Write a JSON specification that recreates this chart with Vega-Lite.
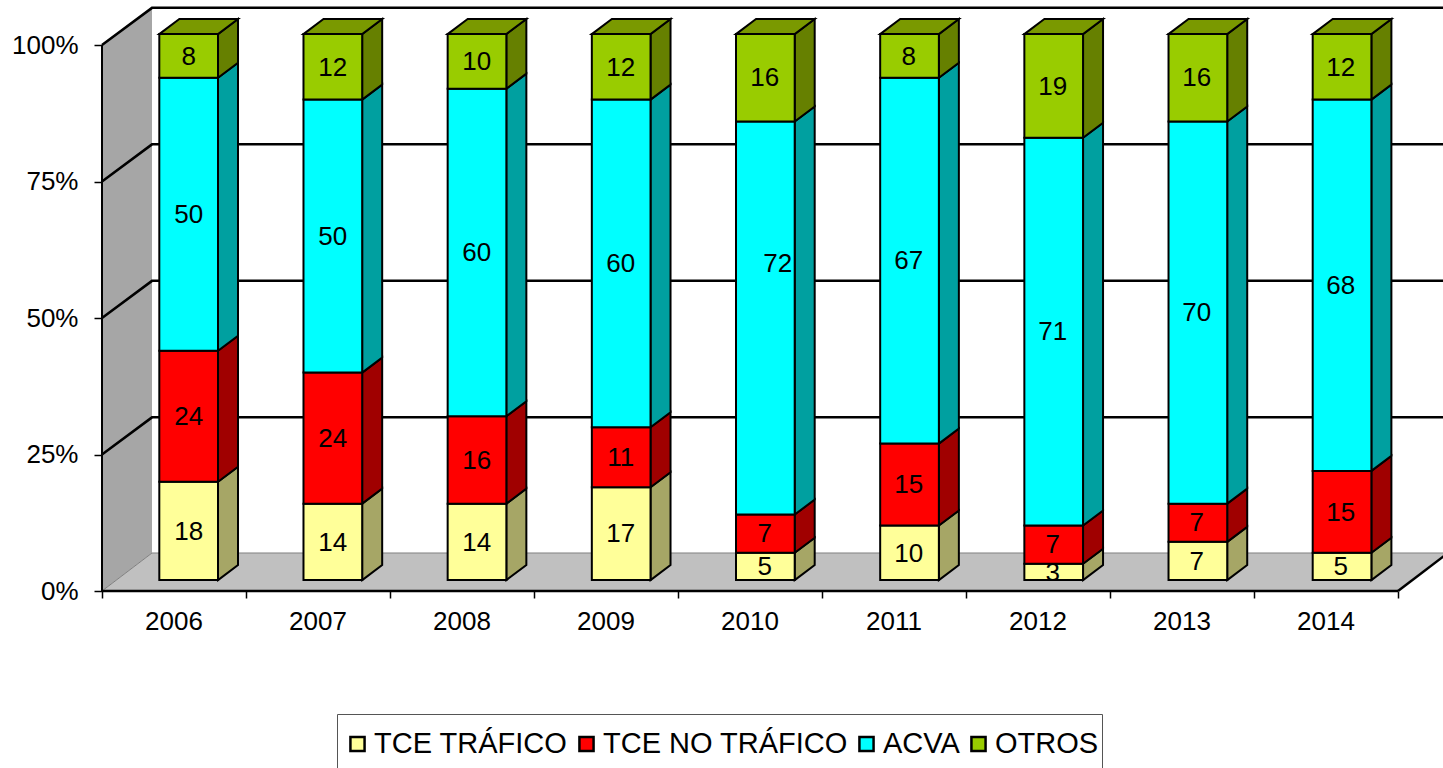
{
"$schema":"https://vega.github.io/schema/vega-lite/v6.json",
"width":1341,"height":591,
"autosize":{"type":"none"},
"padding":{"left":102,"top":0,"right":0,"bottom":177},
"background":"white",
"config":{"view":{"stroke":null},"font":"Liberation Sans"},
"datasets":{
"bars":[
{"year":2006,"category":"TCE TRÁFICO","value":18},{"year":2006,"category":"TCE NO TRÁFICO","value":24},{"year":2006,"category":"ACVA","value":50},{"year":2006,"category":"OTROS","value":8},
{"year":2007,"category":"TCE TRÁFICO","value":14},{"year":2007,"category":"TCE NO TRÁFICO","value":24},{"year":2007,"category":"ACVA","value":50},{"year":2007,"category":"OTROS","value":12},
{"year":2008,"category":"TCE TRÁFICO","value":14},{"year":2008,"category":"TCE NO TRÁFICO","value":16},{"year":2008,"category":"ACVA","value":60},{"year":2008,"category":"OTROS","value":10},
{"year":2009,"category":"TCE TRÁFICO","value":17},{"year":2009,"category":"TCE NO TRÁFICO","value":11},{"year":2009,"category":"ACVA","value":60},{"year":2009,"category":"OTROS","value":12},
{"year":2010,"category":"TCE TRÁFICO","value":5},{"year":2010,"category":"TCE NO TRÁFICO","value":7},{"year":2010,"category":"ACVA","value":72},{"year":2010,"category":"OTROS","value":16},
{"year":2011,"category":"TCE TRÁFICO","value":10},{"year":2011,"category":"TCE NO TRÁFICO","value":15},{"year":2011,"category":"ACVA","value":67},{"year":2011,"category":"OTROS","value":8},
{"year":2012,"category":"TCE TRÁFICO","value":3},{"year":2012,"category":"TCE NO TRÁFICO","value":7},{"year":2012,"category":"ACVA","value":71},{"year":2012,"category":"OTROS","value":19},
{"year":2013,"category":"TCE TRÁFICO","value":7},{"year":2013,"category":"TCE NO TRÁFICO","value":7},{"year":2013,"category":"ACVA","value":70},{"year":2013,"category":"OTROS","value":16},
{"year":2014,"category":"TCE TRÁFICO","value":5},{"year":2014,"category":"TCE NO TRÁFICO","value":15},{"year":2014,"category":"ACVA","value":68},{"year":2014,"category":"OTROS","value":12}
],
"levels":[{"level":25},{"level":50},{"level":75},{"level":100}],
"plane":[{"node":0},{"node":1}]
},
"encoding":{
"x":{"field":"x","type":"quantitative","stack":null,"title":null,
"scale":{"domain":[0,9.3125],"nice":false,"zero":false},
"axis":{"values":[0,1,2,3,4,5,6,7,8,9],"labelExpr":"datum.value<9 ? ''+(2006+datum.value) : ''","labelOffset":71.5,"tickSize":7,"tickColor":"black","tickWidth":1.5,"domain":false,"grid":false,"labelFontSize":26,"labelColor":"black","labelPadding":10,"labelOverlap":false,"labelBound":false,"labelFlush":false}},
"y":{"field":"y","type":"quantitative","stack":null,"title":null,
"scale":{"domain":[0,108.2418],"nice":false,"zero":false},
"axis":{"values":[0,25,50,75,100],"labelExpr":"datum.value+'%'","tickSize":8,"tickColor":"black","tickWidth":1.5,"domain":false,"grid":false,"labelFontSize":26,"labelColor":"black","labelPadding":16,"labelOverlap":false,"labelBound":false}}
},
"layer":[
{"data":{"name":"plane"},
"transform":[{"calculate":"datum.node*50/144","as":"x"},{"calculate":"datum.node*6.96","as":"y"},{"calculate":"100+datum.node*6.96","as":"ytop"}],
"mark":{"type":"area","color":"#A6A6A6","orient":"vertical"},
"encoding":{"y2":{"field":"ytop"}}},
{"data":{"name":"plane"},
"transform":[{"calculate":"datum.node*50/144","as":"x"},{"calculate":"9+datum.node*50/144","as":"xend"},{"calculate":"datum.node*6.96","as":"y"}],
"mark":{"type":"area","color":"#C0C0C0","orient":"horizontal","stroke":"#808080","strokeWidth":1},
"encoding":{"x2":{"field":"xend"}}},
{"data":{"name":"levels"},
"transform":[{"calculate":"[0,1,2]","as":"node"},{"flatten":["node"]},
{"calculate":"datum.node==0?0:(datum.node==1?50/144:9.4)","as":"x"},{"calculate":"datum.level+(datum.node==0?0:6.8)","as":"y"}],
"mark":{"type":"line","color":"black","strokeWidth":2.5},
"encoding":{"detail":{"field":"level"}}},
{"data":{"name":"plane"},
"transform":[{"calculate":"9+datum.node*50/144","as":"x"},{"calculate":"datum.node*6.96","as":"y"}],
"mark":{"type":"line","color":"black","strokeWidth":2.5},
"encoding":{}},
{"data":{"name":"plane"},
"transform":[{"calculate":"datum.node*9","as":"x"},{"calculate":"0","as":"y"}],
"mark":{"type":"line","color":"black","strokeWidth":2.5},
"encoding":{}},
{"data":{"name":"plane"},
"transform":[{"calculate":"0","as":"x"},{"calculate":"datum.node*100","as":"y"}],
"mark":{"type":"line","color":"black","strokeWidth":2,"orient":"horizontal"},
"encoding":{}},
{"data":{"name":"bars"},
"transform":[
{"calculate":"indexof(['TCE TRÁFICO','TCE NO TRÁFICO','ACVA','OTROS'],datum.category)","as":"rank"},
{"stack":"value","groupby":["year"],"sort":[{"field":"rank","order":"ascending"}],"as":["s0","s1"]},
{"calculate":"[0,1]","as":"node"},{"flatten":["node"]},
{"calculate":"(datum.year-2006)*1.0012+0.8056+datum.node*20/144","as":"x"},
{"calculate":"datum.s0+2.0+datum.node*2.75","as":"y"},
{"calculate":"datum.s1+2.0+datum.node*2.75","as":"ytop"}],
"mark":{"type":"area","orient":"vertical","stroke":"black","strokeWidth":2},
"encoding":{"y2":{"field":"ytop"},"detail":{"field":"year"},
"color":{"field":"category","type":"nominal","legend":null,
"scale":{"domain":["TCE TRÁFICO","TCE NO TRÁFICO","ACVA","OTROS"],"range":["#A6A666","#A00000","#00A0A0","#668000"]}}}},
{"data":{"name":"bars"},
"transform":[
{"calculate":"indexof(['TCE TRÁFICO','TCE NO TRÁFICO','ACVA','OTROS'],datum.category)","as":"rank"},
{"stack":"value","groupby":["year"],"sort":[{"field":"rank","order":"ascending"}],"as":["s0","s1"]},
{"filter":"datum.category=='OTROS'"},
{"calculate":"[0,1]","as":"node"},{"flatten":["node"]},
{"calculate":"(datum.year-2006)*1.0012+0.398+datum.node*20/144","as":"x"},
{"calculate":"(datum.year-2006)*1.0012+0.8056+datum.node*20/144","as":"xend"},
{"calculate":"datum.s1+2.0+datum.node*2.75","as":"y"}],
"mark":{"type":"area","orient":"horizontal","color":"#7A9900","stroke":"black","strokeWidth":2},
"encoding":{"x2":{"field":"xend"},"detail":{"field":"year"}}},
{"data":{"name":"bars"},
"transform":[
{"calculate":"indexof(['TCE TRÁFICO','TCE NO TRÁFICO','ACVA','OTROS'],datum.category)","as":"rank"},
{"stack":"value","groupby":["year"],"sort":[{"field":"rank","order":"ascending"}],"as":["s0","s1"]},
{"calculate":"(datum.year-2006)*1.0012+0.398","as":"x"},
{"calculate":"(datum.year-2006)*1.0012+0.8056","as":"xend"},
{"calculate":"datum.s0+2.0","as":"y"},
{"calculate":"datum.s1+2.0","as":"ytop"}],
"mark":{"type":"rect","stroke":"black","strokeWidth":2},
"encoding":{"x2":{"field":"xend"},"y2":{"field":"ytop"},
"color":{"field":"category","type":"nominal",
"scale":{"domain":["TCE TRÁFICO","TCE NO TRÁFICO","ACVA","OTROS"],"range":["#FFFF99","#FF0000","#00FFFF","#99CC00"]},
"legend":{"title":null,"orient":"none","legendX":235,"legendY":714,"direction":"horizontal","columns":4,"gridAlign":"none","columnPadding":1,"padding":3,"fillColor":"white","strokeColor":"#555555","symbolType":"square","symbolSize":200,"symbolOffset":3,"symbolStrokeColor":"black","symbolStrokeWidth":2.5,"symbolOpacity":1,"labelFontSize":29,"labelColor":"black","labelOffset":2,"labelLimit":400,"clipHeight":54}}}},
{"data":{"name":"bars"},
"transform":[
{"calculate":"indexof(['TCE TRÁFICO','TCE NO TRÁFICO','ACVA','OTROS'],datum.category)","as":"rank"},
{"stack":"value","groupby":["year"],"sort":[{"field":"rank","order":"ascending"}],"as":["s0","s1"]},
{"calculate":"datum.year-2006+0.6018+(datum.value==72?0.09:0)","as":"x"},
{"calculate":"(datum.s0+datum.s1)/2+2.05+(datum.value==72?10:0)","as":"y"},
{"calculate":"''+datum.value","as":"label"}],
"mark":{"type":"text","fontSize":26,"color":"black","align":"center","baseline":"middle","dy":1},
"encoding":{"text":{"field":"label","type":"nominal"}}}
],
"resolve":{"scale":{"color":"independent"}}
}
